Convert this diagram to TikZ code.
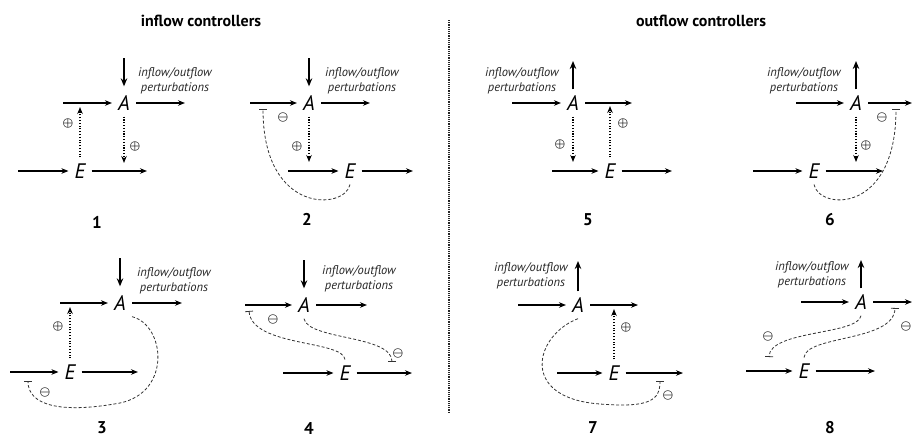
\documentclass[tikz,border=0pt]{standalone}
\usepackage{fontspec}
\setmainfont{PT Sans}
\usepackage{tikz}
\usetikzlibrary{arrows.meta}

\tikzset{
  flow/.style={-{Stealth[length=7pt,width=5.5pt]}, line width=1.1pt},
  pert/.style={-{Stealth[length=8pt,width=6.5pt]}, line width=1.9pt, shorten >=3pt},
  act/.style={-{Stealth[length=7pt,width=5.5pt]}, line width=1.1pt, dash pattern=on 1.1pt off 1.7pt},
  inh/.style={-{Bar[width=8pt]}, line width=0.8pt, dash pattern=on 3pt off 2pt, black!80},
  pool/.style={font=\fontsize{21}{21}\selectfont\itshape, inner sep=6pt},
  ptext/.style={font=\fontsize{12.5}{15}\selectfont\itshape, align=center, text=black!85},
  num/.style={font=\fontsize{17}{17}\selectfont\bfseries},
  head/.style={font=\fontsize{16}{16}\selectfont\bfseries},
  sgn/.style={inner sep=0pt, font=\fontsize{13}{13}\selectfont\boldmath},
  divider/.style={line width=1.6pt, dash pattern=on 1.2pt off 1pt, black!85},
}

\begin{document}
\begin{tikzpicture}[x=1pt,y=-1pt]
  \useasboundingbox (0,0) rectangle (913,437);

  % headers and divider
  \node[head] (hin) at (201,21) {inflow controllers};
  \node[head] (hout) at (701,21) {outflow controllers};
  \coordinate (dtop) at (449,20);
  \coordinate (dbot) at (449,413);
  \draw[divider] (dtop) -- (dbot);

  % 1
  \node[pool] (A1) at (124,103) {A};
  \node[pool] (E1) at (80,171) {E};
  \node[ptext] (t1) at (175,81) {inflow/outflow\\perturbations};
  \coordinate (p1) at (124,58);
  \coordinate (ai1) at (63,103);
  \coordinate (ao1) at (185,103);
  \coordinate (ei1) at (18,171);
  \coordinate (eo1) at (147,171);
  \coordinate (u1) at (80,107);
  \coordinate (d1) at (124,163);
  \draw[pert] (p1) -- (A1);
  \draw[flow] (ai1) -- (A1);
  \draw[flow] (A1) -- (ao1);
  \draw[flow] (ei1) -- (E1);
  \draw[flow] (E1) -- (eo1);
  \draw[act] (E1) -- (u1);
  \draw[act] (A1) -- (d1);
  \node[sgn] (s1a) at (68,123) {$\oplus$};
  \node[sgn] (s1b) at (135,146) {$\oplus$};
  \node[num] (n1) at (97,222) {1};

  % 2
  \node[pool] (A2) at (309,103) {A};
  \node[pool] (E2) at (350,171) {E};
  \node[ptext] (t2) at (362,81) {inflow/outflow\\perturbations};
  \coordinate (p2) at (309,58);
  \coordinate (ai2) at (250,103);
  \coordinate (ao2) at (370,103);
  \coordinate (ei2) at (288,171);
  \coordinate (eo2) at (413,171);
  \coordinate (d2) at (309,162);
  \coordinate (b2) at (263,109);
  \draw[pert] (p2) -- (A2);
  \draw[flow] (ai2) -- (A2);
  \draw[flow] (A2) -- (ao2);
  \draw[flow] (ei2) -- (E2);
  \draw[flow] (E2) -- (eo2);
  \draw[act] (A2) -- (d2);
  \draw[inh] (E2.south) .. controls (345,210) and (263,215) .. (b2);
  \node[sgn] (s2) at (297,146) {$\oplus$};
  \node[sgn] (m2) at (283,117) {$\ominus$};
  \node[num] (n2) at (307,219) {2};

  % 3
  \node[pool] (A3) at (120,303) {A};
  \node[pool] (E3) at (70,372) {E};
  \node[ptext] (t3) at (174,281) {inflow/outflow\\perturbations};
  \coordinate (p3) at (120,258);
  \coordinate (ai3) at (60,303);
  \coordinate (ao3) at (182,303);
  \coordinate (ei3) at (10,372);
  \coordinate (eo3) at (138,372);
  \coordinate (u3) at (70,307);
  \coordinate (b3) at (28,381);
  \draw[pert] (p3) -- (A3);
  \draw[flow] (ai3) -- (A3);
  \draw[flow] (A3) -- (ao3);
  \draw[flow] (ei3) -- (E3);
  \draw[flow] (E3) -- (eo3);
  \draw[act] (E3) -- (u3);
  \draw[inh] (A3.south east) .. controls (165,325) and (172,392) .. (120,403)
    .. controls (60,414) and (28,405) .. (b3);
  \node[sgn] (s3) at (58,326) {$\oplus$};
  \node[sgn] (m3) at (45,392) {$\ominus$};
  \node[num] (n3) at (102,428) {3};

  % 4
  \node[pool] (A4) at (304,305) {A};
  \node[pool] (E4) at (345,373) {E};
  \node[ptext] (t4) at (359,279) {inflow/outflow\\perturbations};
  \coordinate (p4) at (304,260);
  \coordinate (ai4) at (245,305);
  \coordinate (ao4) at (367,305);
  \coordinate (ei4) at (283,373);
  \coordinate (eo4) at (412,373);
  \coordinate (b4a) at (249,311);
  \coordinate (b4b) at (392,362);
  \draw[pert] (p4) -- (A4);
  \draw[flow] (ai4) -- (A4);
  \draw[flow] (A4) -- (ao4);
  \draw[flow] (ei4) -- (E4);
  \draw[flow] (E4) -- (eo4);
  \draw[inh] (E4.north) .. controls (343,340) and (252,347) .. (b4a);
  \draw[inh] (A4.south) .. controls (308,340) and (392,335) .. (b4b);
  \node[sgn] (m4a) at (273,319) {$\ominus$};
  \node[sgn] (m4b) at (398,353) {$\ominus$};
  \node[num] (n4) at (309,428) {4};

  % 5
  \node[pool] (A5) at (573,103) {A};
  \node[pool] (E5) at (610,171) {E};
  \node[ptext] (t5) at (522,81) {inflow/outflow\\perturbations};
  \coordinate (p5) at (573,58);
  \coordinate (ai5) at (512,103);
  \coordinate (ao5) at (632,103);
  \coordinate (ei5) at (552,171);
  \coordinate (eo5) at (672,171);
  \coordinate (d5) at (573,162);
  \coordinate (u5) at (610,106);
  \draw[pert] (A5) -- (p5);
  \draw[flow] (ai5) -- (A5);
  \draw[flow] (A5) -- (ao5);
  \draw[flow] (ei5) -- (E5);
  \draw[flow] (E5) -- (eo5);
  \draw[act] (A5) -- (d5);
  \draw[act] (E5) -- (u5);
  \node[sgn] (s5a) at (560,144) {$\oplus$};
  \node[sgn] (s5b) at (623,123) {$\oplus$};
  \node[num] (n5) at (588,220) {5};

  % 6
  \node[pool] (A6) at (856,103) {A};
  \node[pool] (E6) at (814,171) {E};
  \node[ptext] (t6) at (804,81) {inflow/outflow\\perturbations};
  \coordinate (p6) at (856,58);
  \coordinate (ai6) at (796,103);
  \coordinate (ao6) at (912,103);
  \coordinate (ei6) at (753,171);
  \coordinate (eo6) at (883,171);
  \coordinate (d6) at (856,162);
  \coordinate (b6) at (896,109);
  \draw[pert] (A6) -- (p6);
  \draw[flow] (ai6) -- (A6);
  \draw[flow] (A6) -- (ao6);
  \draw[flow] (ei6) -- (E6);
  \draw[flow] (E6) -- (eo6);
  \draw[act] (A6) -- (d6);
  \draw[inh] (E6.south) .. controls (819,210) and (896,215) .. (b6);
  \node[sgn] (s6) at (866,145) {$\oplus$};
  \node[sgn] (m6) at (882,117) {$\ominus$};
  \node[num] (n6) at (830,220) {6};

  % 7
  \node[pool] (A7) at (578,305) {A};
  \node[pool] (E7) at (614,373) {E};
  \node[ptext] (t7) at (531,276) {inflow/outflow\\perturbations};
  \coordinate (p7) at (578,258);
  \coordinate (ai7) at (518,305);
  \coordinate (ao7) at (638,305);
  \coordinate (ei7) at (557,373);
  \coordinate (eo7) at (683,373);
  \coordinate (u7) at (614,309);
  \coordinate (b7) at (660,381);
  \draw[pert] (A7) -- (p7);
  \draw[flow] (ai7) -- (A7);
  \draw[flow] (A7) -- (ao7);
  \draw[flow] (ei7) -- (E7);
  \draw[flow] (E7) -- (eo7);
  \draw[act] (E7) -- (u7);
  \draw[inh] (A7.south) .. controls (535,335) and (518,398) .. (600,404)
    .. controls (650,408) and (660,400) .. (b7);
  \node[sgn] (s7) at (626,327) {$\oplus$};
  \node[sgn] (m7) at (668,395) {$\ominus$};
  \node[num] (n7) at (593,428) {7};

  % 8
  \node[pool] (A8) at (861,302) {A};
  \node[pool] (E8) at (804,371) {E};
  \node[ptext] (t8) at (812,275) {inflow/outflow\\perturbations};
  \coordinate (p8) at (861,257);
  \coordinate (ai8) at (801,302);
  \coordinate (ao8) at (912,302);
  \coordinate (ei8) at (746,371);
  \coordinate (eo8) at (875,371);
  \coordinate (b8a) at (895,308);
  \coordinate (b8b) at (769,357);
  \draw[pert] (A8) -- (p8);
  \draw[flow] (ai8) -- (A8);
  \draw[flow] (A8) -- (ao8);
  \draw[flow] (ei8) -- (E8);
  \draw[flow] (E8) -- (eo8);
  \draw[inh] (E8.north) .. controls (806,335) and (894,342) .. (b8a);
  \draw[inh] (A8.south) .. controls (858,335) and (770,330) .. (b8b);
  \node[sgn] (m8a) at (768,336) {$\ominus$};
  \node[sgn] (m8b) at (906,326) {$\ominus$};
  \node[num] (n8) at (830,428) {8};
\end{tikzpicture}
\end{document}
